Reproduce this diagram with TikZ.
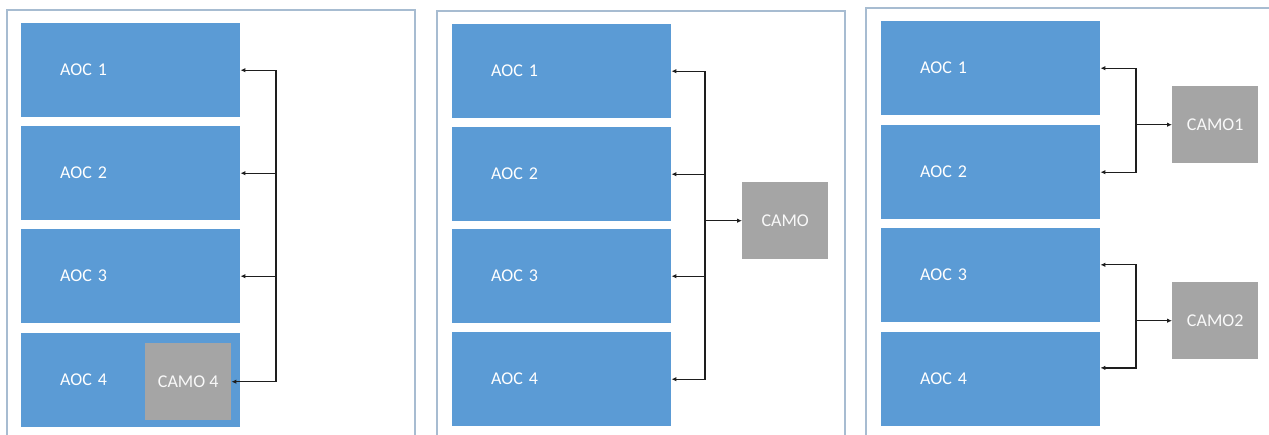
\documentclass[tikz,border=0pt]{standalone}
\usepackage{fontspec}
\setmainfont{Carlito}
\usetikzlibrary{arrows.meta,calc}
\definecolor{aocblue}{HTML}{5B9BD5}
\definecolor{camogray}{HTML}{A5A5A5}
\definecolor{framecol}{HTML}{A7BCD1}
\definecolor{linecol}{HTML}{1E1E1E}
\tikzset{
  aoc/.style={fill=aocblue, draw=none, anchor=north west, minimum height=94pt,
    inner xsep=39pt, text width=141pt, align=left, text=white,
    font=\fontsize{18}{21}\selectfont},
  camo/.style={fill=camogray, draw=none, anchor=north west, minimum width=86pt,
    minimum height=77pt, inner sep=0pt, text=white!95!gray,
    font=\fontsize{18}{21}\selectfont},
  panel/.style={draw=framecol, line width=1.4pt},
  bus/.style={draw=linecol, line width=1.3pt},
  arr/.style={bus, -{Latex[length=5pt,width=4.5pt]}},
  arrs/.style={bus, {Latex[length=5pt,width=4.5pt]}-{Latex[length=5pt,width=4.5pt]}}
}
\begin{document}
\begin{tikzpicture}[x=1pt,y=-1pt]
\useasboundingbox (0,0) rectangle (1269,434);
\clip (0,0) rectangle (1269,434);

% panel outlines
\draw[panel] (7,10) rectangle (415,450);
\draw[panel] (437,11) rectangle (845,450);
\draw[panel] (866,8) rectangle (1290,450);

% ---------- panel 1: CAMO inside AOC 4 ----------
\node[aoc] (p1a1) at (21,23) {AOC 1};
\node[aoc] (p1a2) at (21,126) {AOC 2};
\node[aoc] (p1a3) at (21,229) {AOC 3};
\node[aoc] (p1a4) at (21,333) {AOC 4};
\node[camo] (p1c) at (145,343) {CAMO 4};
\coordinate (p1bus) at (276,0);
\draw[arrs] (p1a1.east) -- (p1a1.east -| p1bus) -- (p1c.east -| p1bus) -- (p1c.east);
\draw[arr] (p1a2.east -| p1bus) -- (p1a2.east);
\draw[arr] (p1a3.east -| p1bus) -- (p1a3.east);

% ---------- panel 2: one shared CAMO ----------
\node[aoc] (p2a1) at (452,24) {AOC 1};
\node[aoc] (p2a2) at (452,127) {AOC 2};
\node[aoc] (p2a3) at (452,229) {AOC 3};
\node[aoc] (p2a4) at (452,332) {AOC 4};
\node[camo] (p2c) at (742,182) {CAMO};
\coordinate (p2bus) at (705,0);
\draw[arrs] (p2a1.east) -- (p2a1.east -| p2bus) -- (p2a4.east -| p2bus) -- (p2a4.east);
\draw[arr] (p2a2.east -| p2bus) -- (p2a2.east);
\draw[arr] (p2a3.east -| p2bus) -- (p2a3.east);
\draw[arr] (p2c.west -| p2bus) -- (p2c.west);

% ---------- panel 3: two CAMOs, two AOCs each ----------
\node[aoc] (p3a1) at (881,21) {AOC 1};
\node[aoc] (p3a2) at (881,125) {AOC 2};
\node[aoc] (p3a3) at (881,228) {AOC 3};
\node[aoc] (p3a4) at (881,332) {AOC 4};
\node[camo] (p3c1) at (1172,86) {CAMO1};
\node[camo] (p3c2) at (1172,282) {CAMO2};
\coordinate (p3bus) at (1136,0);
\draw[arrs] (p3a1.east) -- (p3a1.east -| p3bus) -- (p3a2.east -| p3bus) -- (p3a2.east);
\draw[arr] (p3c1.west -| p3bus) -- (p3c1.west);
% lower pair meets the AOC boxes a little above their centres
\coordinate (p3t3) at ($(p3a3.north east)!0.39!(p3a3.south east)$);
\coordinate (p3t4) at ($(p3a4.north east)!0.38!(p3a4.south east)$);
\draw[arrs] (p3t3) -- (p3t3 -| p3bus) -- (p3t4 -| p3bus) -- (p3t4);
\draw[arr] (p3c2.west -| p3bus) -- (p3c2.west);
\end{tikzpicture}
\end{document}
